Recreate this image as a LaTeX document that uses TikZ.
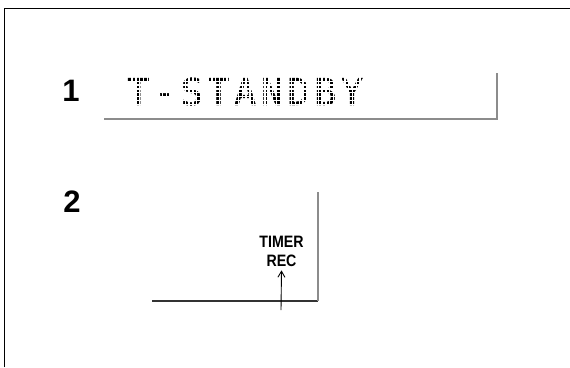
\documentclass[tikz,border=0pt]{standalone}
\usepackage{fontspec}
\setmainfont{Liberation Sans}
\newfontfamily\dotfont[LetterSpace=12,FakeBold=1.2]{DejaVu Sans Mono}
\usetikzlibrary{arrows.meta}
\begin{document}
\begin{tikzpicture}[x=1pt,y=-1pt,
  frameline/.style={line width=1.3pt,black},
  panelline/.style={line width=1.6pt,color=black!45},
  darkline/.style={line width=1.1pt,color=black!80},
  stepnum/.style={font=\bfseries\fontsize{31}{31}\selectfont,inner sep=0pt,anchor=base},
  keylabel/.style={font=\bfseries\fontsize{16.5}{17}\selectfont,inner sep=0pt,anchor=base},
  dotgap/.style={line width=1.4pt,white}]
\useasboundingbox (0,0) rectangle (570,367);
% outer frame
\coordinate (fbl) at (4.3,367);
\coordinate (ftl) at (4.3,8.3);
\coordinate (ftr) at (570,8.3);
\draw[frameline] (fbl) -- (ftl) -- (ftr);
% step numbers
\node[stepnum] (n1) at (71,101) {1};
\node[stepnum] (n2) at (72,212) {2};
% display panel 1
\node[font=\dotfont\fontsize{37}{37}\selectfont,inner sep=0pt,anchor=base west] (disp) at (127,105) {T-STANDBY};
\foreach \i in {0,...,6}{\draw[dotgap] (124,81.2+\i*3.86) -- (375,81.2+\i*3.86);}
\foreach \j in {0,...,64}{\draw[dotgap] (129+3.15+\j*3.8,74) -- (129+3.15+\j*3.8,107);}
\coordinate (p1a) at (104,119);
\coordinate (p1b) at (497,119);
\coordinate (p1c) at (497,73);
\draw[panelline] (p1a) -- (p1b) -- (p1c);
% panel 2
\coordinate (p2a) at (152,301);
\coordinate (p2b) at (318,301);
\coordinate (p2c) at (318,192);
\draw[darkline] (p2a) -- (p2b);
\draw[panelline,line width=1.2pt] (p2b) -- (p2c);
\node[keylabel] (t1) at (281.5,247) {\scalebox{0.86}[1]{TIMER}};
\node[keylabel] (t2) at (281.5,266) {\scalebox{0.86}[1]{REC}};
\coordinate (abot) at (281,310);
\draw[line width=0.9pt,-{Straight Barb[length=6pt,width=7pt]}] (abot) -- ([yshift=-4pt]t2.south);
\end{tikzpicture}
\end{document}
